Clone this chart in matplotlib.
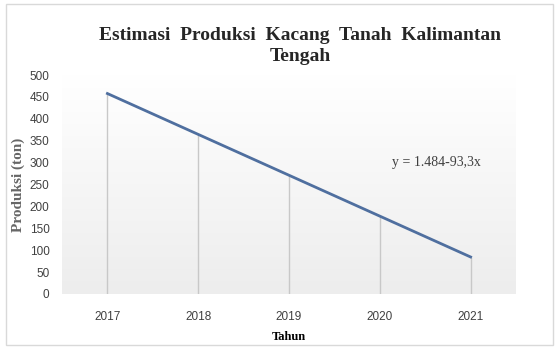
import numpy as np
import matplotlib.pyplot as plt
from matplotlib.patches import Rectangle
from matplotlib.colors import LinearSegmentedColormap

years = ['2017', '2018', '2019', '2020', '2021']
produksi = [457.7, 364.4, 271.1, 177.8, 84.5]
yticks = [0, 50, 100, 150, 200, 250, 300, 350, 400, 450, 500]

fig = plt.figure(figsize=(5.6, 3.49), dpi=100)
fig.patch.set_facecolor('white')
# outer chart border
fig.patches.append(Rectangle((6 / 560, 4 / 349), 547 / 560, 341 / 349,
                             transform=fig.transFigure, fill=False,
                             edgecolor='#d9d9d9', linewidth=1))

ax = fig.add_axes([62 / 560, 55 / 349, 454 / 560, 219 / 349])
x = np.arange(len(years))

# plot area: white at top fading to light gray
grad = np.linspace(1.0, 0.0, 256).reshape(-1, 1)
bg = LinearSegmentedColormap.from_list('bg', ['#ededed', '#ffffff'])
ax.imshow(grad, extent=(-0.5, len(years) - 0.5, 0, 500), aspect='auto',
          cmap=bg, zorder=0)

ax.vlines(x, 0, produksi, colors='#c8c8c8', linewidth=1, zorder=1)
ax.plot(x, produksi, color='#4f6f9f', linewidth=2, zorder=2)

ax.set_xlim(-0.5, len(years) - 0.5)
ax.set_ylim(0, 500)
ax.set_xticks(x)
ax.set_xticklabels(years)
ax.set_yticks(yticks)
for s in ax.spines.values():
    s.set_visible(False)
ax.tick_params(length=0, labelsize=8.5, colors='#404040', pad=12)
ax.tick_params(axis='y', pad=9)
for lab in ax.get_xticklabels() + ax.get_yticklabels():
    lab.set_fontfamily('Liberation Sans')

ax.set_xlabel('Tahun', fontfamily='Liberation Serif', fontweight='bold',
              fontsize=9, labelpad=6)
ax.set_ylabel('Produksi (ton)', fontfamily='Liberation Serif',
              fontweight='bold', fontsize=11, color='#666666', labelpad=3)

ax.text(3.13, 300, 'y = 1.484-93,3x', fontfamily='Liberation Serif',
        fontsize=10, color='#404040', va='center')

fig.text(300 / 560, 1 - 46 / 349,
         'Estimasi  Produksi  Kacang  Tanah  Kalimantan\nTengah',
         ha='center', va='center', fontfamily='Liberation Serif',
         fontweight='bold', fontsize=14, color='#262626', linespacing=1.35)

fig.savefig('out.png', dpi=100)
